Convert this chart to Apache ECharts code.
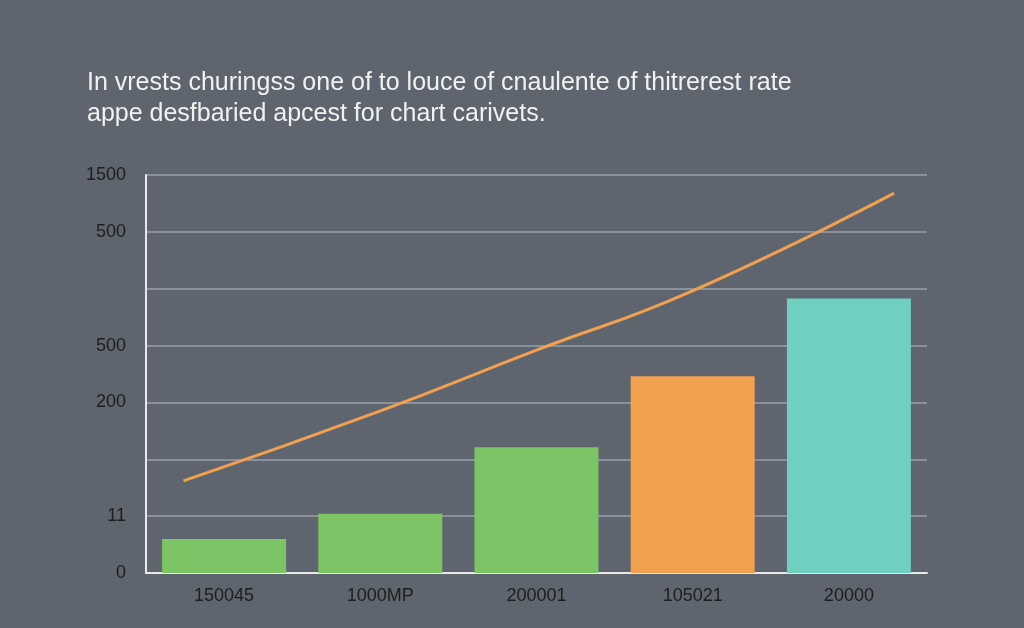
<!DOCTYPE html>
<html>
<head>
  <meta charset="UTF-8">
  <style>
    html, body { margin: 0; padding: 0; background: #5e656e; }
    #chart { width: 1024px; height: 628px; }
  </style>
  <script src="https://cdn.jsdelivr.net/npm/echarts@6/dist/echarts.min.js"></script>
</head>
<body>
<div id="chart"></div>
<script>
  const categories = ['150045', '1000MP', '200001', '105021', '20000'];
  const barValues = [0.6, 1.04, 2.21, 3.46, 4.83];
  const barColors = ['#7cc466', '#7cc466', '#7cc466', '#f2a14f', '#6fd0bf'];
  const yTickLabels = ['0', '11', '', '200', '500', '', '500', '1500'];
  const lineX = [-0.26, 1.01, 2.0, 2.98, 4.29];
  const lineY = [1.62, 2.86, 3.92, 4.94, 6.68];

  const chart = echarts.init(document.getElementById('chart'));
  chart.setOption({
    backgroundColor: '#5e656e',
    title: {
      text: 'In vrests churingss one of to louce of cnaulente of thitrerest rate\nappe desfbaried apcest for chart carivets.',
      left: 82, top: 63,
      textStyle: { color: '#f1f1f1', fontSize: 25, fontWeight: 'normal', lineHeight: 31, fontFamily: 'Liberation Sans' }
    },
    grid: { left: 146, right: 97, top: 175, bottom: 55 },
    xAxis: [
      {
        type: 'category', data: categories,
        axisLine: { lineStyle: { color: '#e8e8e8', width: 2 } },
        axisTick: { show: false },
        axisLabel: { color: '#1e1e1e', fontSize: 18, margin: 14, fontFamily: 'Liberation Sans' }
      },
      { type: 'value', min: -0.5, max: 4.5, show: false }
    ],
    yAxis: {
      type: 'value', min: 0, max: 7, interval: 1,
      axisLine: { show: true, onZero: false, lineStyle: { color: '#e8e8e8', width: 2 } },
      axisTick: { show: false },
      splitLine: { lineStyle: { color: '#9ba1a8', width: 1.5 } },
      axisLabel: {
        color: '#1e1e1e', fontSize: 18, margin: 20, fontFamily: 'Liberation Sans',
        formatter: v => yTickLabels[v] || ''
      }
    },
    series: [
      {
        type: 'bar', barWidth: 124,
        data: barValues.map((v, i) => ({ value: v, itemStyle: { color: barColors[i] } }))
      },
      {
        type: 'line', xAxisIndex: 1, smooth: true, symbol: 'none',
        lineStyle: { color: '#f0a050', width: 3 },
        data: lineX.map((x, i) => [x, lineY[i]])
      }
    ]
  });
</script>
</body>
</html>
